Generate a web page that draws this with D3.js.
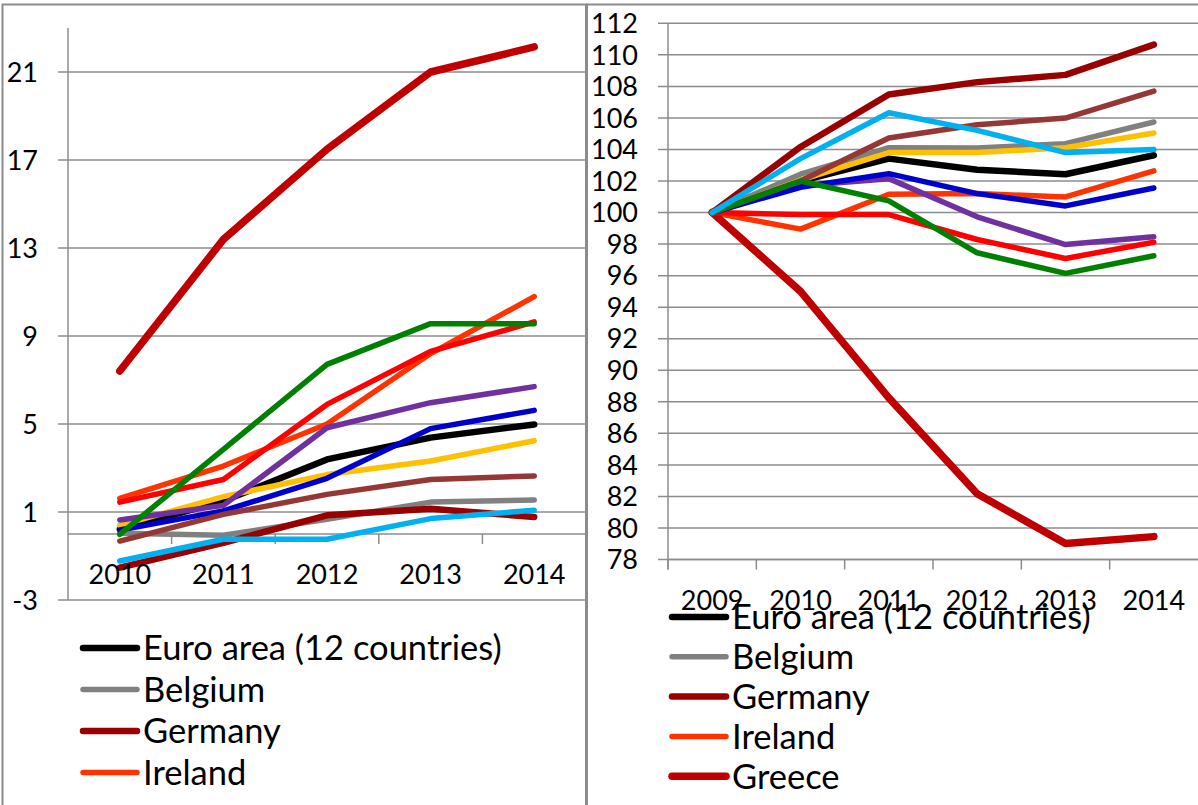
<!DOCTYPE html>
<html>
<head>
<meta charset="utf-8">
<title>Euro area panels</title>
<script src="https://d3js.org/d3.v7.min.js"></script>
<style>
  body { margin: 0; background: #fff; }
  text { font-family: Lato, "Noto Sans", sans-serif; fill: #000; }
</style>
</head>
<body>
<div id="graph"></div>
<script>
// data
var names = ["Euro area (12 countries)", "Belgium", "Germany", "Ireland", "Greece",
  "Spain", "France", "Italy", "Netherlands", "Austria", "Portugal", "Finland"];

var leftYears = ["2010", "2011", "2012", "2013", "2014"];
var leftTicks = [-3, 1, 5, 9, 13, 17, 21];
var leftValues = [
  [0.21, 1.50, 3.39, 4.38, 4.98],
  [0.03, -0.06, 0.67, 1.45, 1.55],
  [-1.53, -0.40, 0.85, 1.15, 0.77],
  [1.62, 3.09, 5.0, 8.2, 10.79],
  [7.41, 13.39, 17.49, 21.0, 22.14],
  [1.45, 2.48, 5.89, 8.3, 9.64],
  [0.39, 1.70, 2.7, 3.32, 4.24],
  [0.64, 1.30, 4.83, 5.97, 6.70],
  [0.18, 1.05, 2.53, 4.79, 5.62],
  [-0.32, 0.89, 1.80, 2.48, 2.64],
  [-0.02, 3.85, 7.71, 9.56, 9.56],
  [-1.23, -0.24, -0.24, 0.70, 1.08]
];

var rightYears = ["2009", "2010", "2011", "2012", "2013", "2014"];
var rightTicks = [78, 80, 82, 84, 86, 88, 90, 92, 94, 96, 98, 100, 102, 104, 106, 108, 110, 112];
var rightValues = [
  [100, 102.0, 103.42, 102.72, 102.43, 103.63],
  [100, 102.43, 104.11, 104.09, 104.37, 105.74],
  [100, 104.16, 107.49, 108.27, 108.73, 110.65],
  [100, 98.95, 101.16, 101.2, 100.99, 102.64],
  [100, 95.0, 88.25, 82.17, 79.02, 79.45],
  [100, 99.87, 99.87, 98.29, 97.09, 98.12],
  [100, 102.05, 103.8, 103.8, 104.11, 105.04],
  [100, 101.7, 102.15, 99.73, 97.97, 98.46],
  [100, 101.6, 102.47, 101.2, 100.42, 101.56],
  [100, 102.0, 104.73, 105.57, 105.99, 107.7],
  [100, 102.0, 100.74, 97.45, 96.14, 97.26],
  [100, 103.42, 106.33, 105.21, 103.8, 103.99]
];

// styles
var colors = ["#000000", "#808080", "#990000", "#FF3300", "#C00000", "#FF0000",
  "#FFC000", "#7030A0", "#0000CC", "#953735", "#008000", "#00B0F0"];
var widths = [6.5, 5.5, 6.5, 5.5, 7.5, 5.5, 5.5, 5.5, 5.5, 5.5, 5.5, 5.5];
var gridColor = "#8c8c8c";

var svg = d3.select("#graph")
  .append("svg")
  .attr("width", 1198)
  .attr("height", 805);

// panel borders
svg.append("rect")
  .attr("x", 2.5).attr("y", 4.5)
  .attr("width", 583.5).attr("height", 820)
  .attr("fill", "none").attr("stroke", gridColor).attr("stroke-width", 2);
svg.append("rect")
  .attr("x", 587).attr("y", 4.5)
  .attr("width", 620).attr("height", 820)
  .attr("fill", "none").attr("stroke", gridColor).attr("stroke-width", 2);

function drawPanel(opts) {
  var g = svg.append("g");
  var x = d3.scaleBand().domain(opts.years).range(opts.xRange);
  var y = d3.scaleLinear().domain(opts.yDomain).range(opts.yRange);
  var x0 = opts.xRange[0], x1 = opts.xRange[1];

  // gridlines
  g.selectAll(".grid")
    .data(opts.ticks)
    .enter().append("line")
    .attr("x1", x0 - 10).attr("x2", x1)
    .attr("y1", function(d) { return y(d); })
    .attr("y2", function(d) { return y(d); })
    .attr("stroke", gridColor).attr("stroke-width", 1.5);

  // y axis line
  g.append("line")
    .attr("x1", x0).attr("x2", x0)
    .attr("y1", opts.yRange[1]).attr("y2", opts.yRange[0] + (opts.axisAt === opts.yDomain[0] ? 10 : 0))
    .attr("stroke", gridColor).attr("stroke-width", 1.5);

  // y tick labels
  g.selectAll(".ylab")
    .data(opts.ticks)
    .enter().append("text")
    .attr("x", opts.labelRight)
    .attr("y", function(d) { return y(d); })
    .attr("dy", "0.36em")
    .attr("text-anchor", "end")
    .style("font-size", "27px")
    .text(function(d) { return d; });

  // category axis
  var ay = y(opts.axisAt);
  g.append("line")
    .attr("x1", x0).attr("x2", x1)
    .attr("y1", ay).attr("y2", ay)
    .attr("stroke", gridColor).attr("stroke-width", 1.5);
  g.selectAll(".xtick")
    .data(opts.years.slice(opts.firstTick))
    .enter().append("line")
    .attr("x1", function(d) { return x(d); })
    .attr("x2", function(d) { return x(d); })
    .attr("y1", ay).attr("y2", ay + 10)
    .attr("stroke", gridColor).attr("stroke-width", 1.5);

  // series
  var line = d3.line()
    .x(function(d, i) { return x(opts.years[i]) + x.bandwidth() / 2; })
    .y(function(d) { return y(d); });

  g.selectAll(".series")
    .data(opts.values)
    .enter().append("path")
    .attr("d", function(d) { return line(d); })
    .attr("fill", "none")
    .attr("stroke", function(d, i) { return colors[i]; })
    .attr("stroke-width", function(d, i) { return widths[i]; })
    .attr("stroke-linejoin", "round")
    .attr("stroke-linecap", "round");

  // legend (only the rows that fit in the panel)
  var leg = g.selectAll(".leg")
    .data(names.slice(0, opts.legendRows))
    .enter().append("g")
    .attr("transform", function(d, i) { return "translate(0," + (opts.legendTop + i * opts.legendStep) + ")"; });
  leg.append("line")
    .attr("x1", opts.legendX).attr("x2", opts.legendX + 54)
    .attr("stroke", function(d, i) { return colors[i]; })
    .attr("stroke-width", function(d, i) { return widths[i]; })
    .attr("stroke-linecap", "round");
  leg.append("text")
    .attr("x", opts.legendX + 60)
    .attr("dy", "0.36em")
    .style("font-size", "34.5px")
    .text(function(d) { return d; });

  // x labels
  g.selectAll(".xlab")
    .data(opts.years)
    .enter().append("text")
    .attr("x", function(d) { return x(d) + x.bandwidth() / 2; })
    .attr("y", ay + 50)
    .attr("text-anchor", "middle")
    .style("font-size", "27px")
    .text(function(d) { return d; });
}

drawPanel({
  years: leftYears, values: leftValues, ticks: leftTicks,
  xRange: [68, 586], yDomain: [-3, 23], yRange: [600, 28],
  axisAt: 0, firstTick: 1, labelRight: 38,
  legendRows: 4, legendTop: 648, legendStep: 41.5, legendX: 83
});

drawPanel({
  years: rightYears, values: rightValues, ticks: rightTicks,
  xRange: [668, 1198], yDomain: [78, 112], yRange: [559.5, 23.3],
  axisAt: 78, firstTick: 0, labelRight: 638,
  legendRows: 5, legendTop: 617, legendStep: 39.8, legendX: 672
});
</script>
</body>
</html>
